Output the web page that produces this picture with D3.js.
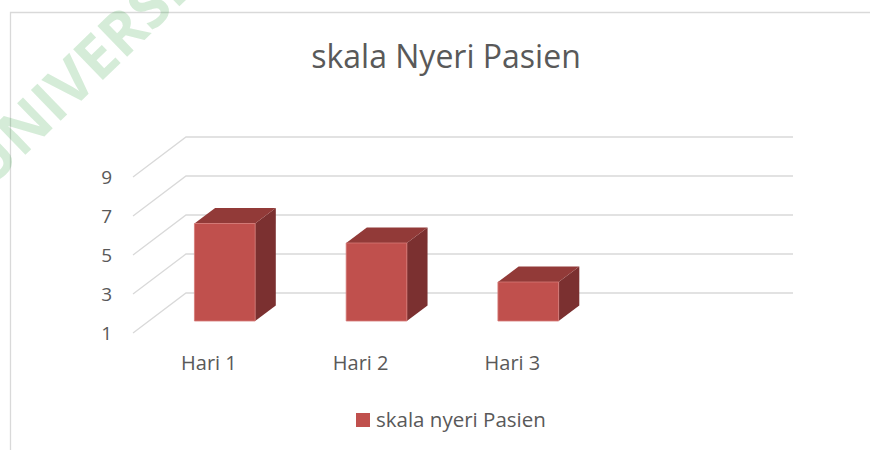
<!DOCTYPE html>
<html>
<head>
<meta charset="utf-8">
<script src="https://cdn.jsdelivr.net/npm/d3@7"></script>
<style>
  body { margin: 0; background: #fff; }
  text { font-family: "Open Sans", sans-serif; fill: #595959; }
</style>
</head>
<body>
<div id="chart"></div>
<script>
const categories = ["Hari 1", "Hari 2", "Hari 3", ""]
const values = [6, 5, 3, null]
const yTicks = [1, 3, 5, 7, 9]
const seriesName = "skala nyeri Pasien"
const title = "skala Nyeri Pasien"

const width = 870, height = 450

const svg = d3.select("#chart")
    .append("svg")
    .attr("width", width)
    .attr("height", height)

// chart border (cropped on the right and bottom)
svg.append("path")
    .attr("d", "M10.5,450 V12.5 H870")
    .attr("fill", "none")
    .attr("stroke", "#d9d9d9")
    .attr("stroke-width", 1.3)

// 3d frame: front plane + depth vector
const depthX = 53, depthY = -40
const x = d3.scaleBand().domain(categories).range([133, 740])
const y = d3.scaleLinear().domain([1, 9]).range([333, 177])

function pt(px, v, d) {
    return [px + depthX * d, y(v) + depthY * d]
}

// back wall and side wall gridlines
const grid = svg.append("g").attr("stroke", "#d9d9d9").attr("stroke-width", 1.3).attr("fill", "none")
yTicks.forEach(t => {
    const a = pt(x.range()[0], t, 0)
    const b = pt(x.range()[0], t, 1)
    const c = pt(x.range()[1], t, 1)
    grid.append("path").attr("d", d3.line()([a, b, c]))
})

// y tick labels
svg.append("g").selectAll("text")
    .data(yTicks)
    .enter().append("text")
    .attr("x", 112)
    .attr("y", d => y(d))
    .attr("dy", "0.36em")
    .attr("text-anchor", "end")
    .attr("font-size", 19)
    .text(d => d)

// bars
const d0 = 0.3, d1 = 0.69
const barW = x.bandwidth() * 0.4
const bars = svg.append("g")
categories.forEach((c, i) => {
    const v = values[i]
    if (v == null) return
    const x0 = x(c) + x.bandwidth() / 2 - barW / 2
    const x1 = x0 + barW
    const poly = pts => pts.map(p => p.join(",")).join(" ")
    // side
    bars.append("polygon")
        .attr("points", poly([pt(x1, v, d0), pt(x1, v, d1), pt(x1, 1, d1), pt(x1, 1, d0)]))
        .attr("fill", "#7b3030")
    // top
    bars.append("polygon")
        .attr("points", poly([pt(x0, v, d0), pt(x1, v, d0), pt(x1, v, d1), pt(x0, v, d1)]))
        .attr("fill", "#923a38")
    // front
    bars.append("polygon")
        .attr("points", poly([pt(x0, v, d0), pt(x1, v, d0), pt(x1, 1, d0), pt(x0, 1, d0)]))
        .attr("fill", "#c0504d")
        .attr("stroke", "#d67a77")
        .attr("stroke-width", 0.8)
})

// category labels
svg.append("g").selectAll("text")
    .data(categories)
    .enter().append("text")
    .attr("x", d => x(d) + x.bandwidth() / 2)
    .attr("y", 370)
    .attr("text-anchor", "middle")
    .attr("font-size", 20)
    .text(d => d)

// title
svg.append("text")
    .attr("x", 446)
    .attr("y", 68)
    .attr("text-anchor", "middle")
    .attr("font-size", 32)
    .text(title)

// legend
const legend = svg.append("g")
legend.append("rect")
    .attr("x", 356).attr("y", 413)
    .attr("width", 14).attr("height", 14)
    .attr("fill", "#c0504d")
legend.append("text")
    .attr("x", 376)
    .attr("y", 427)
    .attr("font-size", 20.5)
    .text(seriesName)

// watermark
svg.append("text")
    .attr("transform", "translate(-11,190) rotate(-44)")
    .attr("font-size", 60)
    .attr("font-weight", "bold")
    .style("fill", "#2e9e3e")
    .style("fill-opacity", 0.2)
    .text("UNIVERSITAS")
</script>
</body>
</html>
